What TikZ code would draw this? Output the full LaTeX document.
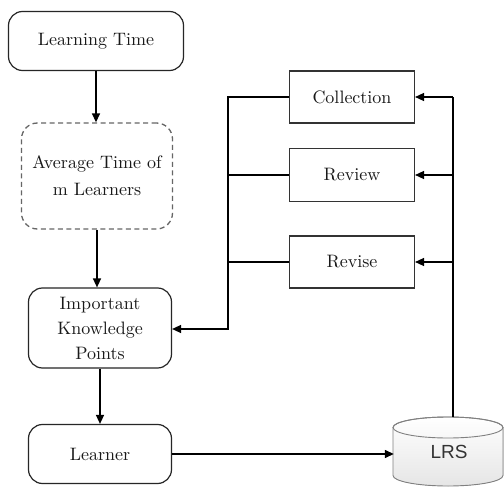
\documentclass[tikz,border=0pt]{standalone}
\usepackage{fontspec}
\newfontfamily\lmten{lmroman10-regular.otf}
\newfontfamily\lrsfont{Liberation Sans}
\usetikzlibrary{arrows.meta}
\begin{document}
\begin{tikzpicture}[x=1pt,y=-1pt,
  txt/.style={font=\lmten\fontsize{18}{25}\selectfont, text=black!90, align=center, inner sep=0pt},
  rbox/.style={txt, draw=black!85, line width=1.2pt, rounded corners=14pt},
  dbox/.style={txt, draw=black!60, line width=1.3pt, dashed, dash pattern=on 5pt off 3.5pt, rounded corners=16pt},
  sbox/.style={txt, draw=black!80, line width=1.1pt, minimum width=125pt},
  arr/.style={line width=1.4pt, -{Triangle[length=9pt,width=8pt]}},
  ln/.style={line width=1.2pt}]
\useasboundingbox (0,0) rectangle (504,487);
\fill[white] (0,0) rectangle (504,487);

% left column
\node[rbox, minimum width=175pt, minimum height=59pt] (lt) at (96,41) {Learning Time};
\node[dbox, minimum width=151pt, minimum height=106pt, font=\lmten\fontsize{18}{27}\selectfont] (avg) at (97,176) {Average Time of\\m Learners};
\node[rbox, minimum width=143pt, minimum height=80pt] (ikp) at (100,328) {Important\\Knowledge\\Points};
\node[rbox, minimum width=143pt, minimum height=59pt] (lrn) at (100,454) {Learner};

% right boxes
\node[sbox, minimum height=52pt] (col) at (352,97) {Collection};
\node[sbox, minimum height=53pt] (rvw) at (352,175) {Review};
\node[sbox, minimum height=52pt] (rvs) at (352,262) {Revise};

% LRS cylinder
\node[inner sep=0pt, minimum width=110pt, minimum height=69pt] (lrs) at (449,452) {};
\fill[top color=white, bottom color=black!10, draw=black!50, line width=0.9pt]
  (393,427.5) -- (393,475.5) arc[start angle=180, end angle=360, x radius=55pt, y radius=10.5pt]
  -- (503,427.5) arc[start angle=0, end angle=180, x radius=55pt, y radius=10.5pt] -- cycle;
\draw[draw=black!50, line width=0.9pt] (448,427.5) ellipse[x radius=55pt, y radius=10.5pt];
\node[font=\lrsfont\fontsize{19}{22}\selectfont, text=black!80, inner sep=0pt] (lrstxt) at (lrs.center) {LRS};

% left chain arrows
\draw[arr] (lt.south) -- (lt.south |- avg.north);
\draw[arr] (avg.south) -- (avg.south |- ikp.north);
\draw[arr] (ikp.south) -- (ikp.south |- lrn.north);
\draw[arr] (lrn.east) -- (lrn.east -| lrs.west);

% left bus
\coordinate (lb) at (228,329);
\draw[arr] (col.west) -| (lb) -- (lb -| ikp.east);
\draw[ln] (rvw.west) -- (rvw.west -| lb);
\draw[ln] (rvs.west) -- (rvs.west -| lb);

% right bus
\coordinate (rb) at (453,97);
\draw[line width=1.4pt] (rb |- lrs.north) -- (rb);
\draw[arr] (rb) -- (col.east);
\draw[arr] (rb |- rvw.east) -- (rvw.east);
\draw[arr] (rb |- rvs.east) -- (rvs.east);
\end{tikzpicture}
\end{document}
